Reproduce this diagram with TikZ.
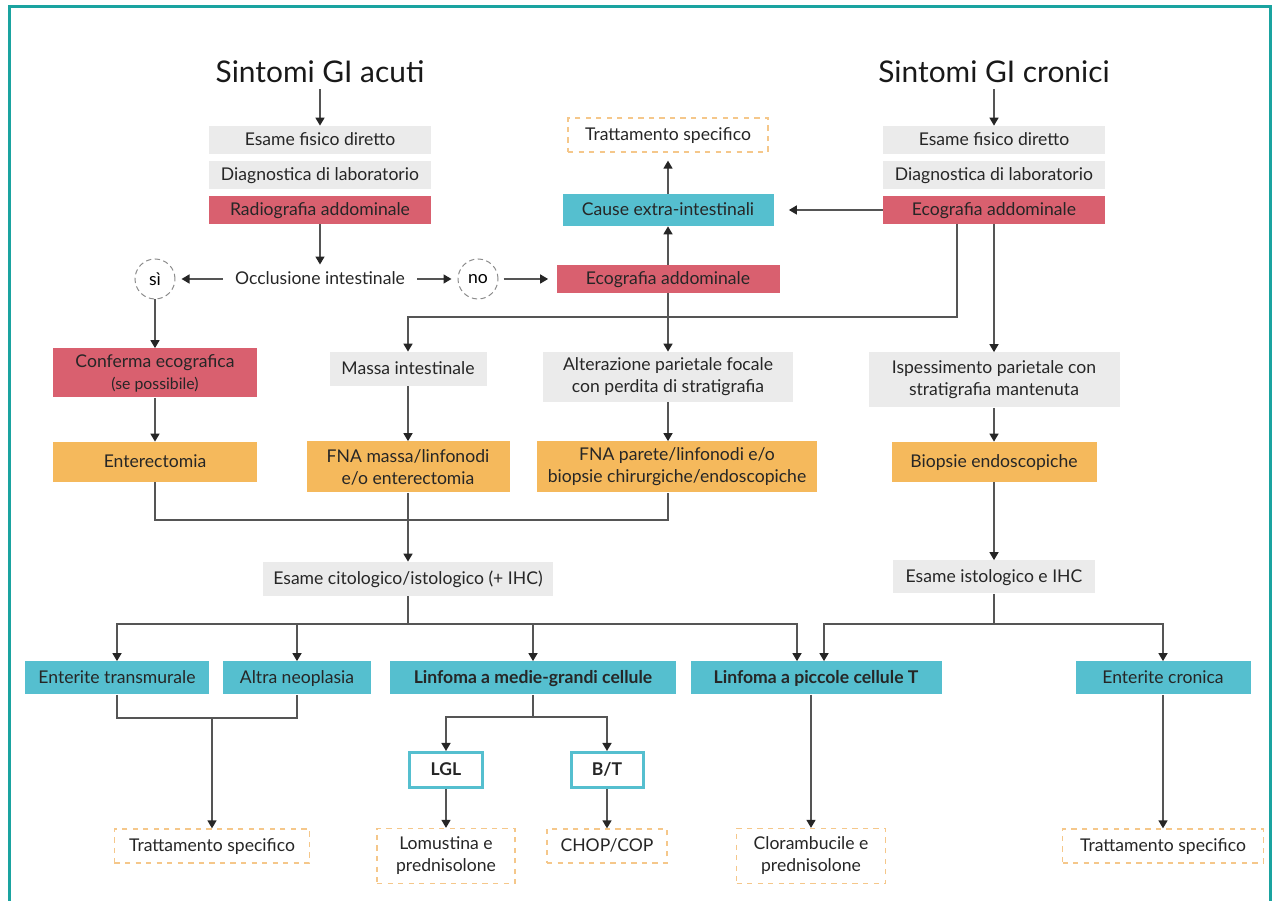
\documentclass[tikz,border=0pt]{standalone}
\usepackage{fontspec}
\setmainfont{Lato}
\usepackage{xcolor}
\usetikzlibrary{arrows.meta,positioning}
\definecolor{grayfill}{HTML}{EBEBEB}
\definecolor{pinkfill}{HTML}{D9606F}
\definecolor{orangefill}{HTML}{F5B95C}
\definecolor{tealfill}{HTML}{55BFCF}
\definecolor{dashline}{HTML}{F5C78A}
\definecolor{frameteal}{HTML}{1AA3A0}
\definecolor{lncol}{HTML}{555555}
\begin{document}
\begin{tikzpicture}[
  x=0.2mm, y=-0.2mm,
  font=\fontsize{10}{12.5}\selectfont,
  box/.style={align=center, inner sep=0pt, text=black!85},
  sl/.style={text height=1.6ex, text depth=0.45ex},
  gr/.style={box, fill=grayfill},
  pk/.style={box, fill=pinkfill},
  og/.style={box, fill=orangefill},
  tl/.style={box, fill=tealfill},
  tlb/.style={box, sl, draw=tealfill, line width=0.6mm, fill=white, font=\fontsize{10}{12.5}\selectfont\bfseries},
  cure/.style={box, draw=dashline, dashed, line width=0.25mm, fill=white},
  yesno/.style={circle, draw=black!45, densely dashed, line width=0.2mm, minimum size=8mm, inner sep=0pt},
  ttl/.style={font=\fontsize{17}{20}\selectfont, text=black!90},
  ln/.style={draw=lncol, line width=0.3mm},
  ar/.style={ln, -{Triangle[length=1.6mm, width=1.8mm, color=black!85]}},
]
\useasboundingbox (0,0) rectangle (1277,901);
\draw[frameteal, line width=0.6mm] (9,910) -- (9,7) -- (1270,7) -- (1270,910);

\node[ttl] (tA) at (320,72) {Sintomi GI acuti};
\node[ttl] (tC) at (994,72) {Sintomi GI cronici};

\node[gr, sl, minimum width=44.4mm, minimum height=5.6mm] (efA) at (320,140) {Esame fisico diretto};
\node[gr, sl, minimum width=44.4mm, minimum height=5.6mm] (dlA) at (320,175) {Diagnostica di laboratorio};
\node[pk, sl, minimum width=44.4mm, minimum height=5.6mm] (rxA) at (320,210) {Radiografia addominale};
\node[box, sl, inner xsep=2.4mm, inner ysep=1mm] (occ) at (320,279) {Occlusione intestinale};
\node[yesno] (si) at (155,279) {sì};
\node[yesno] (no) at (478,279) {no};

\node[pk, sl, minimum width=44.6mm, minimum height=5.6mm] (ecoM) at (668,279) {Ecografia addominale};
\node[tl, sl, minimum width=42.2mm, minimum height=6.4mm] (cause) at (668,210) {Cause extra-intestinali};
\node[cure, sl, minimum width=40mm, minimum height=6.8mm] (trTop) at (668,135) {Trattamento specifico};

\node[gr, sl, minimum width=44.4mm, minimum height=5.6mm] (efC) at (994,140) {Esame fisico diretto};
\node[gr, sl, minimum width=44.4mm, minimum height=5.6mm] (dlC) at (994,175) {Diagnostica di laboratorio};
\node[pk, sl, minimum width=44.4mm, minimum height=5.6mm] (ecoC) at (994,210) {Ecografia addominale};
\coordinate (ecoCb) at (957,224);
\coordinate (k1) at (957,317);

\node[pk, minimum width=40.8mm, minimum height=9.8mm] (conf) at (155,373) {Conferma ecografica\\{\fontsize{9}{11}\selectfont(se possibile)}};
\node[gr, sl, minimum width=31.4mm, minimum height=6.8mm] (massa) at (408,369) {Massa intestinale};
\node[gr, minimum width=50mm, minimum height=10mm] (alt) at (668,377) {Alterazione parietale focale\\con perdita di stratigrafia};
\node[gr, minimum width=50.2mm, minimum height=11mm] (isp) at (994,380) {Ispessimento parietale con\\stratigrafia mantenuta};

\node[og, sl, minimum width=40.8mm, minimum height=8mm] (ent) at (155,462) {Enterectomia};
\node[og, minimum width=40.6mm, minimum height=10.2mm] (fnaM) at (408,467) {FNA massa/linfonodi\\e/o enterectomia};
\node[og, minimum width=56mm, minimum height=10.2mm] (fnaP) at (677,467) {FNA parete/linfonodi e/o\\biopsie chirurgiche/endoscopiche};
\node[og, sl, minimum width=41mm, minimum height=8mm] (biop) at (994,462) {Biopsie endoscopiche};
\coordinate (mL) at (408,520);

\node[gr, sl, minimum width=58mm, minimum height=6.8mm] (citol) at (408,579) {Esame citologico/istologico (+ IHC)};
\node[gr, sl, minimum width=40.4mm, minimum height=6.6mm] (istol) at (994,577) {Esame istologico e IHC};
\coordinate (sL) at (408,624);
\coordinate (sR) at (994,624);

\node[tl, sl, minimum width=36.6mm, minimum height=6.6mm] (etr) at (117,678) {Enterite transmurale};
\node[tl, sl, minimum width=29.6mm, minimum height=6.6mm] (altra) at (297,678) {Altra neoplasia};
\node[tl, sl, minimum width=57.2mm, minimum height=6.6mm, font=\fontsize{10}{12.5}\selectfont\bfseries] (lmg) at (533,678) {Linfoma a medie-grandi cellule};
\node[tl, sl, minimum width=50.2mm, minimum height=6.6mm, font=\fontsize{10}{12.5}\selectfont\bfseries] (lpc) at (816,678) {Linfoma a piccole cellule T};
\node[tl, sl, minimum width=35mm, minimum height=6.6mm] (ecr) at (1163,678) {Enterite cronica};
\coordinate (mB) at (212,718);
\coordinate (mM) at (533,717);

\node[tlb, minimum width=14.6mm, minimum height=7mm] (lgl) at (446,770) {LGL};
\node[tlb, minimum width=14.4mm, minimum height=7mm] (bt) at (607,770) {B/T};

\node[cure, sl, minimum width=39mm, minimum height=6.8mm] (trL) at (212,846) {Trattamento specifico};
\node[cure, minimum width=27.6mm, minimum height=11mm] (lom) at (446,856) {Lomustina e\\prednisolone};
\node[cure, sl, minimum width=24mm, minimum height=6.8mm] (chop) at (607,846) {CHOP/COP};
\node[cure, minimum width=29.8mm, minimum height=11mm] (clor) at (811,856) {Clorambucile e\\prednisolone};
\node[cure, sl, minimum width=40.2mm, minimum height=6.8mm] (trR) at (1163,846) {Trattamento specifico};

\draw[ar] (tA) -- (efA);
\draw[ar] (rxA) -- (occ);
\draw[ar, shorten >=1.2mm] (occ) -- (si);
\draw[ar, shorten >=1.2mm] (occ) -- (no);
\draw[ar, shorten <=1mm, shorten >=1.6mm] (no) -- (ecoM);
\draw[ar] (ecoM) -- (cause);
\draw[ar, shorten >=1.6mm] (cause) -- (trTop);
\draw[ar] (tC) -- (efC);
\draw[ar, shorten >=3mm] (ecoC) -- (cause);
\draw[ar] (ecoCb) -- (k1) -| (massa);
\draw[ar] (ecoM) -- (alt);
\draw[ar] (ecoC) -- (isp);
\draw[ar] (si) -- (conf);
\draw[ar] (conf) -- (ent);
\draw[ar] (massa) -- (fnaM);
\draw[ar] (alt) -- (alt |- fnaP.north);
\draw[ar] (isp) -- (biop);
\draw[ln] (ent) |- (mL) -| (alt |- fnaP.south);
\draw[ar] (fnaM) -- (citol);
\draw[ar] (biop) -- (istol);
\draw[ln] (citol) -- (sL);
\draw[ar] (sL) -| (etr);
\draw[ar] (sL) -| (altra);
\draw[ar] (sL) -| (lmg);
\draw[ar] (sL) -| ([xshift=-3.8mm]lpc.north);
\draw[ln] (istol) -- (sR);
\draw[ar] (sR) -| ([xshift=1.6mm]lpc.north);
\draw[ar] (sR) -| (ecr);
\draw[ln] (etr) |- (mB) -| (altra);
\draw[ar] (mB) -- (trL);
\draw[ln] (lmg) -- (mM);
\draw[ar] (mM) -| (lgl);
\draw[ar] (mM) -| (bt);
\draw[ar] (lgl) -- (lom);
\draw[ar] (bt) -- (chop);
\draw[ar] (lpc.south -| clor) -- (clor);
\draw[ar] (ecr) -- (trR);
\end{tikzpicture}
\end{document}
